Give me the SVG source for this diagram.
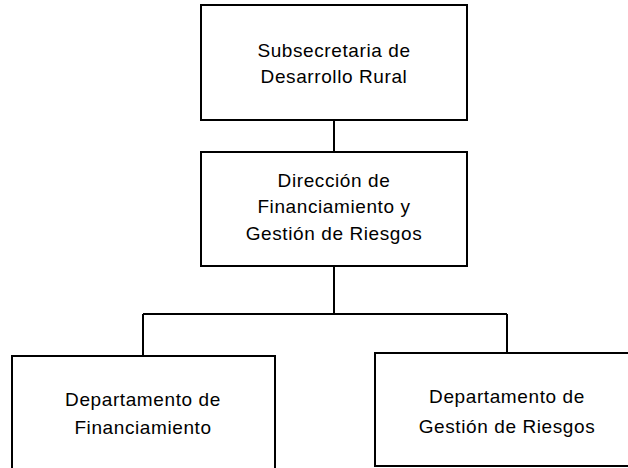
<svg xmlns="http://www.w3.org/2000/svg" width="628" height="468" viewBox="0 0 628 468">
<style>
.box{fill:#fff;stroke:#000;stroke-width:2}
.ln{fill:none;stroke:#000;stroke-width:2}
text{font-family:"Liberation Sans",Arial,sans-serif;font-size:19px;fill:#000;text-anchor:middle;letter-spacing:0.6px}
</style>
<rect width="628" height="468" fill="#fff"/>
<g id="connectors">
<path class="ln" d="M334 120V152M334 266V314M143 314H507M143 314V356M507 314V353"/>
</g>
<g id="subsecretaria">
<rect class="box" x="201" y="5" width="266" height="115"/>
<text x="334" y="57">Subsecretaria de</text>
<text x="334" y="83">Desarrollo Rural</text>
</g>
<g id="direccion">
<rect class="box" x="201" y="152" width="266" height="114"/>
<text x="334" y="187">Dirección de</text>
<text x="334" y="213">Financiamiento y</text>
<text x="334" y="240">Gestión de Riesgos</text>
</g>
<g id="dep-financiamiento">
<rect class="box" x="12" y="356" width="263" height="130"/>
<text x="143" y="406">Departamento de</text>
<text x="143" y="434">Financiamiento</text>
</g>
<g id="dep-riesgos">
<rect class="box" x="375" y="353" width="270" height="113"/>
<text x="507" y="403">Departamento de</text>
<text x="507" y="433">Gestión de Riesgos</text>
</g>
</svg>
